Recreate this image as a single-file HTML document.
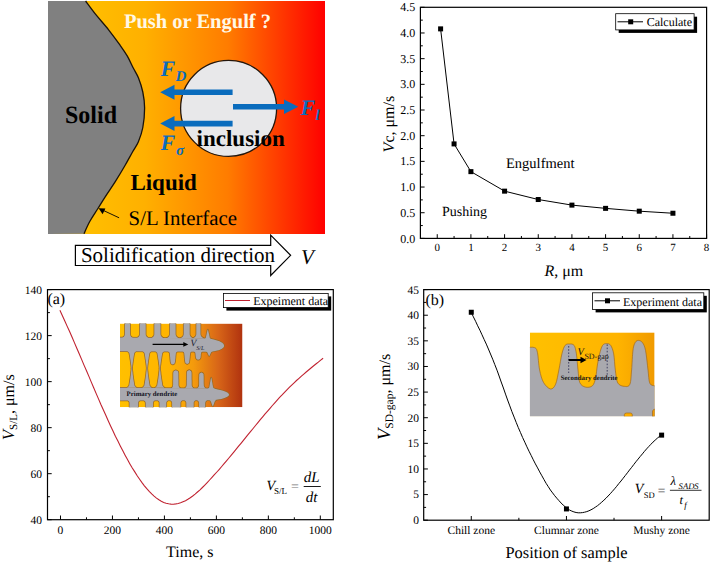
<!DOCTYPE html>
<html><head><meta charset="utf-8"><title>Figure</title>
<style>
html,body{margin:0;padding:0;background:#fff;overflow:hidden;}
svg{display:block;}
text{font-family:"Liberation Serif","Times New Roman",serif;text-rendering:geometricPrecision;}
.b{font-weight:bold;}
.i{font-style:italic;}
</style></head><body>
<svg width="712" height="564" viewBox="0 0 712 564">
<defs>
<linearGradient id="liq" x1="48" y1="0" x2="325" y2="0" gradientUnits="userSpaceOnUse">
<stop offset="0" stop-color="#ffc800"/>
<stop offset="0.35" stop-color="#ffb000"/>
<stop offset="0.65" stop-color="#ff7c00"/>
<stop offset="1" stop-color="#ff0000"/>
</linearGradient>
<linearGradient id="insA" x1="120" y1="0" x2="242.5" y2="0" gradientUnits="userSpaceOnUse">
<stop offset="0" stop-color="#ffc000"/>
<stop offset="0.4" stop-color="#ffb400"/>
<stop offset="0.6" stop-color="#f49a0c"/>
<stop offset="0.8" stop-color="#d86618"/>
<stop offset="1" stop-color="#b0320f"/>
</linearGradient>
<linearGradient id="insB" x1="530" y1="0" x2="655" y2="0" gradientUnits="userSpaceOnUse">
<stop offset="0" stop-color="#ffc000"/>
<stop offset="0.7" stop-color="#ffb400"/>
<stop offset="1" stop-color="#f09a00"/>
</linearGradient>
<clipPath id="clipA"><rect x="120" y="323.6" width="122.5" height="83.6"/></clipPath>
<clipPath id="clipB"><rect x="529.9" y="332.4" width="124.7" height="83.8"/></clipPath>
</defs>

<rect x="48" y="1" width="277" height="233" fill="url(#liq)"/>
<path d="M48,1 L85.6,1 C87.35,3.32 92.27,10.10 96.10,14.90 C99.93,19.70 104.67,24.83 108.60,29.80 C112.53,34.77 116.60,40.35 119.70,44.70 C122.80,49.05 124.92,51.97 127.20,55.90 C129.48,59.83 131.53,64.65 133.40,68.30 C135.27,71.95 136.83,73.85 138.40,77.80 C139.97,81.75 141.77,86.98 142.80,92.00 C143.83,97.02 144.60,101.98 144.60,107.90 C144.60,113.82 143.83,121.87 142.80,127.50 C141.77,133.13 140.12,137.62 138.40,141.70 C136.68,145.78 134.78,147.95 132.50,152.00 C130.22,156.05 127.60,161.02 124.70,166.00 C121.80,170.98 118.30,176.85 115.10,181.90 C111.90,186.95 108.42,191.78 105.50,196.30 C102.58,200.82 100.25,204.75 97.60,209.00 C94.95,213.25 91.87,217.67 89.60,221.80 C87.33,225.93 84.93,231.80 84.00,233.80 L48,234 Z" fill="#808080"/>
<path d="M85.60,1.00 C87.35,3.32 92.27,10.10 96.10,14.90 C99.93,19.70 104.67,24.83 108.60,29.80 C112.53,34.77 116.60,40.35 119.70,44.70 C122.80,49.05 124.92,51.97 127.20,55.90 C129.48,59.83 131.53,64.65 133.40,68.30 C135.27,71.95 136.83,73.85 138.40,77.80 C139.97,81.75 141.77,86.98 142.80,92.00 C143.83,97.02 144.60,101.98 144.60,107.90 C144.60,113.82 143.83,121.87 142.80,127.50 C141.77,133.13 140.12,137.62 138.40,141.70 C136.68,145.78 134.78,147.95 132.50,152.00 C130.22,156.05 127.60,161.02 124.70,166.00 C121.80,170.98 118.30,176.85 115.10,181.90 C111.90,186.95 108.42,191.78 105.50,196.30 C102.58,200.82 100.25,204.75 97.60,209.00 C94.95,213.25 91.87,217.67 89.60,221.80 C87.33,225.93 84.93,231.80 84.00,233.80" fill="none" stroke="#1a1208" stroke-width="1.3"/>
<circle cx="228.6" cy="108.4" r="48" fill="#e8e8ea" stroke="#24160c" stroke-width="1.3"/>
<path d="M232.6,89.5 L174.5,89.5 L174.5,84.8 L160.2,92.3 L174.5,99.8 L174.5,95.1 L232.6,95.1 Z" fill="#0a6cbd"/>
<path d="M232.6,120.8 L174.5,120.8 L174.5,116.1 L160.2,123.6 L174.5,131.1 L174.5,126.4 L232.6,126.4 Z" fill="#0a6cbd"/>
<path d="M233.0,104.1 L284.0,104.1 L284.0,99.6 L298.3,106.8 L284.0,114.0 L284.0,109.5 L233.0,109.5 Z" fill="#0a6cbd"/>
<text x="123.9" y="27.8" class="b" font-size="20.5" fill="#fff8e6">Push or Engulf ?</text>
<text x="65.0" y="123.3" class="b" font-size="24" transform="translate(0,-4.9) scale(1,1.04)">Solid</text>
<text x="130.4" y="189.7" class="b" font-size="23">Liquid</text>
<text x="196.6" y="145.5" class="b" font-size="23">inclusion</text>
<text x="128.6" y="225.2" font-size="20.8">S/L Interface</text>
<text x="160.5" y="75.5" class="b i" font-size="22" fill="#0a6cbd">F</text>
<text x="175.5" y="81" class="b i" font-size="15" fill="#0a6cbd">D</text>
<text x="160.5" y="150" class="b i" font-size="22" fill="#0a6cbd">F</text>
<text x="176" y="154.5" class="b i" font-size="15" fill="#0a6cbd">σ</text>
<text x="300.5" y="114.5" class="b i" font-size="22" fill="#0a6cbd">F</text>
<text x="315.5" y="119.5" class="b i" font-size="15" fill="#0a6cbd">l</text>
<line x1="119.1" y1="217.8" x2="102" y2="209.8" stroke="#000" stroke-width="0.9"/>
<path d="M98.6,208.2 L105.4,208.6 L102.6,214.3 Z" fill="#000"/>
<path d="M75.4,245.4 L270.7,245.4 L270.7,235.1 L290.6,255.3 L270.7,275.5 L270.7,265.5 L75.4,265.5 Z" fill="#fff" stroke="#000" stroke-width="1.2"/>
<text x="80.9" y="261.6" font-size="21">Solidification direction</text>
<text x="301" y="263.5" class="i" font-size="21">V</text>
<rect x="420.40" y="7.30" width="286.20" height="231.10" fill="none" stroke="#000" stroke-width="1.20"/>
<text x="415.2" y="242.50" font-size="12" text-anchor="end">0.0</text>
<text x="415.2" y="216.82" font-size="12" text-anchor="end">0.5</text>
<text x="415.2" y="191.14" font-size="12" text-anchor="end">1.0</text>
<text x="415.2" y="165.47" font-size="12" text-anchor="end">1.5</text>
<text x="415.2" y="139.79" font-size="12" text-anchor="end">2.0</text>
<text x="415.2" y="114.11" font-size="12" text-anchor="end">2.5</text>
<text x="415.2" y="88.43" font-size="12" text-anchor="end">3.0</text>
<text x="415.2" y="62.76" font-size="12" text-anchor="end">3.5</text>
<text x="415.2" y="37.08" font-size="12" text-anchor="end">4.0</text>
<text x="415.2" y="11.40" font-size="12" text-anchor="end">4.5</text>
<text x="437.24" y="251.4" font-size="11" text-anchor="middle">0</text>
<text x="470.91" y="251.4" font-size="11" text-anchor="middle">1</text>
<text x="504.58" y="251.4" font-size="11" text-anchor="middle">2</text>
<text x="538.25" y="251.4" font-size="11" text-anchor="middle">3</text>
<text x="571.92" y="251.4" font-size="11" text-anchor="middle">4</text>
<text x="605.59" y="251.4" font-size="11" text-anchor="middle">5</text>
<text x="639.26" y="251.4" font-size="11" text-anchor="middle">6</text>
<text x="672.93" y="251.4" font-size="11" text-anchor="middle">7</text>
<text x="706.60" y="251.4" font-size="11" text-anchor="middle">8</text>
<path d="M420.40,238.40 h4.2 M420.40,225.56 h2.4 M420.40,212.72 h4.2 M420.40,199.88 h2.4 M420.40,187.04 h4.2 M420.40,174.21 h2.4 M420.40,161.37 h4.2 M420.40,148.53 h2.4 M420.40,135.69 h4.2 M420.40,122.85 h2.4 M420.40,110.01 h4.2 M420.40,97.17 h2.4 M420.40,84.33 h4.2 M420.40,71.49 h2.4 M420.40,58.66 h4.2 M420.40,45.82 h2.4 M420.40,32.98 h4.2 M420.40,20.14 h2.4 M420.40,7.30 h4.2 M437.24,238.40 v-4.2 M454.07,238.40 v-2.4 M470.91,238.40 v-4.2 M487.74,238.40 v-2.4 M504.58,238.40 v-4.2 M521.41,238.40 v-2.4 M538.25,238.40 v-4.2 M555.08,238.40 v-2.4 M571.92,238.40 v-4.2 M588.75,238.40 v-2.4 M605.59,238.40 v-4.2 M622.42,238.40 v-2.4 M639.26,238.40 v-4.2 M656.09,238.40 v-2.4 M672.93,238.40 v-4.2 M689.76,238.40 v-2.4 M706.60,238.40 v-4.2" stroke="#000" stroke-width="1" fill="none"/>
<polyline points="440.60,28.87 454.07,143.91 470.91,171.64 504.58,191.15 538.25,199.52 571.92,205.12 605.59,208.36 639.26,211.18 672.93,213.24" fill="none" stroke="#000" stroke-width="1"/>
<rect x="438.10" y="26.37" width="5" height="5" fill="#000"/>
<rect x="451.57" y="141.41" width="5" height="5" fill="#000"/>
<rect x="468.41" y="169.14" width="5" height="5" fill="#000"/>
<rect x="502.08" y="188.65" width="5" height="5" fill="#000"/>
<rect x="535.75" y="197.02" width="5" height="5" fill="#000"/>
<rect x="569.42" y="202.62" width="5" height="5" fill="#000"/>
<rect x="603.09" y="205.86" width="5" height="5" fill="#000"/>
<rect x="636.76" y="208.68" width="5" height="5" fill="#000"/>
<rect x="670.43" y="210.74" width="5" height="5" fill="#000"/>
<rect x="618.7" y="16.7" width="78.4" height="16.2" fill="#000"/>
<rect x="615.7" y="13.7" width="78.4" height="16.2" fill="#fff" stroke="#000" stroke-width="0.8"/>
<line x1="617.5" y1="21.8" x2="643" y2="21.8" stroke="#000" stroke-width="1"/>
<rect x="628.2" y="19.3" width="5" height="5" fill="#000"/>
<text x="646.7" y="26" font-size="12">Calculate</text>
<text x="506" y="167.5" font-size="14.5">Engulfment</text>
<text x="442" y="216" font-size="14">Pushing</text>
<text transform="translate(394.2,152.4) rotate(-90)" font-size="16"><tspan class="i">V</tspan>c, μm/s</text>
<text x="544.4" y="276.2" font-size="16"><tspan class="i">R</tspan>, μm</text>
<rect x="47.50" y="289.60" width="285.80" height="230.10" fill="none" stroke="#000" stroke-width="1.20"/>
<text x="42" y="523.60" font-size="11.5" text-anchor="end">40</text>
<text x="42" y="477.58" font-size="11.5" text-anchor="end">60</text>
<text x="42" y="431.56" font-size="11.5" text-anchor="end">80</text>
<text x="42" y="385.54" font-size="11.5" text-anchor="end">100</text>
<text x="42" y="339.52" font-size="11.5" text-anchor="end">120</text>
<text x="42" y="293.50" font-size="11.5" text-anchor="end">140</text>
<text x="60.49" y="533.9" font-size="11.5" text-anchor="middle">0</text>
<text x="112.45" y="533.9" font-size="11.5" text-anchor="middle">200</text>
<text x="164.42" y="533.9" font-size="11.5" text-anchor="middle">400</text>
<text x="216.38" y="533.9" font-size="11.5" text-anchor="middle">600</text>
<text x="268.35" y="533.9" font-size="11.5" text-anchor="middle">800</text>
<text x="320.31" y="533.9" font-size="11.5" text-anchor="middle">1000</text>
<path d="M47.50,519.70 h4.2 M47.50,496.69 h2.4 M47.50,473.68 h4.2 M47.50,450.67 h2.4 M47.50,427.66 h4.2 M47.50,404.65 h2.4 M47.50,381.64 h4.2 M47.50,358.63 h2.4 M47.50,335.62 h4.2 M47.50,312.61 h2.4 M47.50,289.60 h4.2 M60.49,519.70 v-4.2 M86.47,519.70 v-2.4 M112.45,519.70 v-4.2 M138.44,519.70 v-2.4 M164.42,519.70 v-4.2 M190.40,519.70 v-2.4 M216.38,519.70 v-4.2 M242.36,519.70 v-2.4 M268.35,519.70 v-4.2 M294.33,519.70 v-2.4 M320.31,519.70 v-4.2" stroke="#000" stroke-width="1" fill="none"/>
<polyline points="59.9,310.3 62.3,315.5 64.7,320.7 67.1,326.1 69.6,331.5 72.0,337.0 74.4,342.6 76.8,348.2 79.2,353.8 81.6,359.4 84.0,365.1 86.5,370.8 88.9,376.4 91.3,382.1 93.7,387.7 96.1,393.4 98.5,398.9 100.9,404.5 103.4,409.9 105.8,415.3 108.2,420.7 110.6,425.9 113.0,431.1 115.4,436.2 117.9,441.1 120.3,445.9 122.7,450.6 125.1,455.2 127.5,459.6 129.9,463.9 132.3,468.0 134.8,471.9 137.2,475.7 139.6,479.2 142.0,482.6 144.4,485.8 146.8,488.7 149.2,491.4 151.7,493.9 154.1,496.1 156.5,498.1 158.9,499.8 161.3,501.2 163.7,502.4 166.1,503.2 168.6,503.8 171.0,504.1 173.4,504.2 175.8,503.9 178.2,503.5 180.6,502.8 183.0,501.8 185.5,500.7 187.9,499.3 190.3,497.7 192.7,496.0 195.1,494.1 197.5,492.0 200.0,489.8 202.4,487.5 204.8,485.1 207.2,482.6 209.6,480.0 212.0,477.4 214.4,474.7 216.9,472.0 219.3,469.3 221.7,466.5 224.1,463.7 226.5,460.8 228.9,458.0 231.3,455.1 233.8,452.1 236.2,449.2 238.6,446.2 241.0,443.3 243.4,440.3 245.8,437.3 248.2,434.4 250.7,431.4 253.1,428.5 255.5,425.5 257.9,422.6 260.3,419.7 262.7,416.8 265.1,413.9 267.6,411.1 270.0,408.3 272.4,405.5 274.8,402.8 277.2,400.1 279.6,397.4 282.1,394.9 284.5,392.3 286.9,389.8 289.3,387.4 291.7,385.1 294.1,382.8 296.5,380.5 299.0,378.3 301.4,376.2 303.8,374.1 306.2,372.0 308.6,370.0 311.0,368.0 313.4,366.0 315.9,364.0 318.3,362.1 320.7,360.1 323.1,358.2" fill="none" stroke="#c02230" stroke-width="1.1"/>
<rect x="226.4" y="296.4" width="104.8" height="14.2" fill="#000"/>
<rect x="223.4" y="293.4" width="104.8" height="14.2" fill="#fff" stroke="#000" stroke-width="0.8"/>
<line x1="225" y1="300.5" x2="250" y2="300.5" stroke="#c02230" stroke-width="1"/>
<text x="253.2" y="305" font-size="12">Expeiment data</text>
<text x="47.4" y="304.4" font-size="16">(a)</text>
<text x="266.5" y="489.7" class="i" font-size="14">V</text>
<text x="274" y="494" font-size="9">S/L</text>
<text x="291" y="490.5" font-size="14" fill="#777">=</text>
<text x="303.8" y="481.8" class="i" font-size="15">dL</text>
<line x1="303.7" y1="486.5" x2="320.8" y2="486.5" stroke="#000" stroke-width="0.9"/>
<text x="305.8" y="501.8" class="i" font-size="15">dt</text>
<text transform="translate(14.4,440.3) rotate(-90)" font-size="16"><tspan class="i" font-size="17">V</tspan><tspan font-size="11" dy="3">S/L</tspan><tspan dy="-3">, μm/s</tspan></text>
<text x="166.1" y="556.8" font-size="16">Time, s</text>
<g clip-path="url(#clipA)"><rect x="120.0" y="323.6" width="122.5" height="83.6" fill="url(#insA)"/>
<g fill="#a9a9af" stroke="#9a6a24" stroke-width="1.5" stroke-linejoin="round"><path d="M110,337.4 L209,338.6 C214,339.6 219,340.6 222.2,342.8 C224.6,344.6 224.8,346.6 222.2,348.4 C219,350.6 214,351.4 209,351.8 L110,351.2 Z"/><path d="M121.3,338.5 L123.0,337.4 L124.1,336.4 L124.7,335.3 L124.9,334.3 L124.9,333.2 L124.9,332.2 L124.9,331.1 L124.9,330.1 L124.9,329.0 L124.9,327.9 L124.9,326.9 L124.9,325.8 L124.9,324.8 L124.9,323.7 L124.9,322.7 L124.9,321.6 L130.1,321.6 L130.1,322.7 L130.1,323.7 L130.1,324.8 L130.1,325.8 L130.1,326.9 L130.1,327.9 L130.1,329.0 L130.1,330.1 L130.1,331.1 L130.1,332.2 L130.1,333.2 L130.1,334.3 L130.3,335.3 L130.9,336.4 L132.0,337.4 L133.7,338.5 Z"/><path d="M136.2,338.5 L137.9,337.4 L139.0,336.4 L139.7,335.3 L139.8,334.3 L139.8,333.2 L139.8,332.2 L139.8,331.1 L139.8,330.1 L139.8,329.0 L139.8,327.9 L139.8,326.9 L139.8,325.8 L139.8,324.8 L139.8,323.7 L139.8,322.7 L139.8,321.6 L145.7,321.6 L145.7,322.7 L145.7,323.7 L145.7,324.8 L145.7,325.8 L145.7,326.9 L145.7,327.9 L145.7,329.0 L145.7,330.1 L145.7,331.1 L145.7,332.2 L145.7,333.2 L145.7,334.3 L145.8,335.3 L146.5,336.4 L147.6,337.4 L149.2,338.5 Z"/><path d="M150.8,338.5 L152.4,337.4 L153.5,336.4 L154.2,335.3 L154.3,334.3 L154.3,333.2 L154.3,332.2 L154.3,331.1 L154.3,330.1 L154.3,329.0 L154.3,327.9 L154.3,326.9 L154.3,325.8 L154.3,324.8 L154.3,323.7 L154.3,322.7 L154.3,321.6 L160.5,321.6 L160.5,322.7 L160.5,323.7 L160.5,324.8 L160.5,325.8 L160.5,326.9 L160.5,327.9 L160.5,329.0 L160.5,330.1 L160.5,331.1 L160.5,332.2 L160.5,333.2 L160.5,334.3 L160.7,335.3 L161.4,336.4 L162.5,337.4 L164.1,338.5 Z"/><path d="M166.2,338.5 L167.9,337.4 L169.0,336.4 L169.6,335.3 L169.8,334.3 L169.8,333.2 L169.8,332.2 L169.8,331.1 L169.8,330.1 L169.8,329.0 L169.8,327.9 L169.8,326.9 L169.8,325.8 L169.8,324.8 L169.8,323.7 L169.8,322.7 L169.8,321.6 L175.6,321.6 L175.6,322.7 L175.6,323.7 L175.6,324.8 L175.6,325.8 L175.6,326.9 L175.6,327.9 L175.6,329.0 L175.6,330.1 L175.6,331.1 L175.6,332.2 L175.6,333.2 L175.6,334.3 L175.8,335.3 L176.4,336.4 L177.5,337.4 L179.2,338.5 Z"/><path d="M180.1,338.5 L181.8,337.4 L182.9,336.4 L183.5,335.3 L183.7,334.3 L183.7,333.2 L183.7,332.2 L183.7,331.1 L183.7,330.1 L183.7,329.0 L183.7,327.9 L183.7,326.9 L183.7,325.8 L183.7,324.8 L183.7,323.7 L183.7,322.7 L183.7,321.6 L189.7,321.6 L189.7,322.7 L189.7,323.7 L189.7,324.8 L189.7,325.8 L189.7,326.9 L189.7,327.9 L189.7,329.0 L189.7,330.1 L189.7,331.1 L189.7,332.2 L189.7,333.2 L189.7,334.3 L189.9,335.3 L190.5,336.4 L191.6,337.4 L193.3,338.5 Z"/><path d="M192.7,338.5 L194.4,337.4 L195.5,336.4 L196.1,335.3 L196.3,334.3 L196.3,333.2 L196.3,332.2 L196.3,331.1 L196.3,330.1 L196.3,329.0 L196.3,327.9 L196.3,326.9 L196.3,325.8 L196.3,324.8 L196.3,323.7 L196.3,322.7 L196.3,321.6 L200.5,321.6 L200.5,322.7 L200.5,323.7 L200.5,324.8 L200.5,325.8 L200.5,326.9 L200.5,327.9 L200.5,329.0 L200.5,330.1 L200.5,331.1 L200.5,332.2 L200.5,333.2 L200.5,334.3 L200.7,335.3 L201.3,336.4 L202.4,337.4 L204.1,338.5 Z"/><path d="M203.8,340.0 L204.6,339.4 L205.2,338.7 L205.7,338.1 L205.9,337.4 L206.0,336.8 L206.2,336.1 L206.3,335.4 L206.5,334.8 L206.6,334.2 L206.7,333.5 L206.9,332.9 L207.0,332.2 L207.2,331.6 L207.3,330.9 L207.5,330.2 L207.8,329.6 L207.8,329.6 L208.1,330.2 L208.3,330.9 L208.4,331.6 L208.6,332.2 L208.7,332.9 L208.9,333.5 L209.0,334.2 L209.2,334.8 L209.3,335.4 L209.4,336.1 L209.6,336.8 L209.7,337.4 L209.9,338.1 L210.4,338.7 L211.0,339.4 L211.8,340.0 Z"/><path d="M127.1,350.8 L128.5,351.9 L129.3,353.0 L129.5,354.1 L129.7,355.2 L129.9,356.3 L130.1,357.4 L130.2,358.5 L130.4,359.6 L130.6,360.7 L130.7,361.8 L130.9,362.9 L131.0,364.0 L131.2,365.1 L131.3,366.2 L131.4,367.3 L131.5,368.4 L132.2,368.4 L132.2,367.3 L132.3,366.2 L132.4,365.1 L132.6,364.0 L132.7,362.9 L132.9,361.8 L133.0,360.7 L133.2,359.6 L133.4,358.5 L133.5,357.4 L133.7,356.3 L133.9,355.2 L134.1,354.1 L134.3,353.0 L135.1,351.9 L136.5,350.8 Z"/><path d="M142.3,350.8 L143.7,351.9 L144.5,353.0 L144.7,354.1 L144.9,355.2 L145.1,356.3 L145.3,357.4 L145.4,358.5 L145.6,359.6 L145.8,360.7 L145.9,361.8 L146.1,362.9 L146.2,364.0 L146.4,365.1 L146.5,366.2 L146.6,367.3 L146.7,368.4 L147.3,368.4 L147.4,367.3 L147.5,366.2 L147.6,365.1 L147.8,364.0 L147.9,362.9 L148.1,361.8 L148.2,360.7 L148.4,359.6 L148.6,358.5 L148.7,357.4 L148.9,356.3 L149.1,355.2 L149.3,354.1 L149.5,353.0 L150.3,351.9 L151.7,350.8 Z"/><path d="M155.1,350.8 L156.5,351.9 L157.3,353.0 L157.5,354.1 L157.7,355.2 L157.9,356.3 L158.1,357.4 L158.2,358.5 L158.4,359.6 L158.6,360.7 L158.7,361.8 L158.9,362.9 L159.0,364.0 L159.2,365.1 L159.3,366.2 L159.4,367.3 L159.5,368.4 L160.2,368.4 L160.2,367.3 L160.3,366.2 L160.4,365.1 L160.6,364.0 L160.7,362.9 L160.9,361.8 L161.0,360.7 L161.2,359.6 L161.4,358.5 L161.5,357.4 L161.7,356.3 L161.9,355.2 L162.1,354.1 L162.3,353.0 L163.1,351.9 L164.5,350.8 Z"/><path d="M167.4,350.5 L168.5,351.4 L169.2,352.3 L169.7,353.1 L169.8,354.0 L169.9,354.9 L170.0,355.8 L170.1,356.7 L170.2,357.6 L170.2,358.4 L170.3,359.3 L170.4,360.2 L170.5,361.1 L170.6,362.0 L170.9,362.8 L171.2,363.7 L172.8,364.6 L172.8,364.6 L174.4,363.7 L174.7,362.8 L175.0,362.0 L175.1,361.1 L175.2,360.2 L175.3,359.3 L175.4,358.4 L175.5,357.6 L175.5,356.7 L175.6,355.8 L175.7,354.9 L175.8,354.0 L175.9,353.1 L176.4,352.3 L177.1,351.4 L178.2,350.5 Z"/><path d="M182.0,350.5 L183.0,351.3 L183.8,352.2 L184.2,353.0 L184.3,353.9 L184.4,354.7 L184.5,355.6 L184.6,356.4 L184.6,357.2 L184.7,358.1 L184.8,358.9 L184.9,359.8 L185.0,360.6 L185.1,361.5 L185.3,362.3 L185.6,363.2 L187.2,364.0 L187.2,364.0 L188.8,363.2 L189.1,362.3 L189.3,361.5 L189.4,360.6 L189.5,359.8 L189.6,358.9 L189.7,358.1 L189.8,357.2 L189.8,356.4 L189.9,355.6 L190.0,354.7 L190.1,353.9 L190.2,353.0 L190.6,352.2 L191.4,351.3 L192.4,350.5 Z"/><path d="M193.2,350.5 L193.9,351.1 L194.5,351.7 L195.0,352.2 L195.3,352.8 L195.4,353.4 L195.5,354.0 L195.5,354.6 L195.6,355.1 L195.6,355.7 L195.7,356.3 L195.8,356.9 L195.8,357.5 L196.0,358.1 L196.3,358.6 L196.7,359.2 L198.2,359.8 L198.2,359.8 L199.7,359.2 L200.1,358.6 L200.4,358.1 L200.6,357.5 L200.6,356.9 L200.7,356.3 L200.8,355.7 L200.8,355.1 L200.8,354.6 L200.9,354.0 L201.0,353.4 L201.1,352.8 L201.4,352.2 L201.9,351.7 L202.5,351.1 L203.2,350.5 Z"/><path d="M205.4,350.8 L205.9,351.1 L206.4,351.4 L206.7,351.8 L207.1,352.1 L207.3,352.4 L207.5,352.8 L207.6,353.1 L207.8,353.4 L207.9,353.7 L208.1,354.1 L208.2,354.4 L208.4,354.7 L208.5,355.0 L208.7,355.4 L208.8,355.7 L209.2,356.0 L209.2,356.0 L209.5,355.7 L209.7,355.4 L209.8,355.0 L210.0,354.7 L210.1,354.4 L210.3,354.1 L210.4,353.7 L210.6,353.4 L210.8,353.1 L210.9,352.8 L211.1,352.4 L211.3,352.1 L211.7,351.8 L212.0,351.4 L212.5,351.1 L213.0,350.8 Z"/><path d="M110,387.6 L214,388.4 C219,389.6 224,390.6 227.2,392.4 C229.6,394 229.6,395.4 227.2,396.8 C224,398.6 219,399.6 214,400.2 L110,400.4 Z"/><path d="M127.0,387.8 L128.5,386.6 L129.2,385.4 L129.4,384.1 L129.6,382.9 L129.8,381.7 L130.0,380.4 L130.2,379.2 L130.4,378.0 L130.5,376.8 L130.7,375.6 L130.9,374.3 L131.0,373.1 L131.1,371.9 L131.3,370.6 L131.4,369.4 L131.5,368.2 L132.2,368.2 L132.2,369.4 L132.3,370.6 L132.5,371.9 L132.6,373.1 L132.7,374.3 L132.9,375.6 L133.1,376.8 L133.2,378.0 L133.4,379.2 L133.6,380.4 L133.8,381.7 L134.0,382.9 L134.2,384.1 L134.4,385.4 L135.1,386.6 L136.6,387.8 Z"/><path d="M142.2,387.8 L143.7,386.6 L144.4,385.4 L144.6,384.1 L144.8,382.9 L145.0,381.7 L145.2,380.4 L145.4,379.2 L145.6,378.0 L145.7,376.8 L145.9,375.6 L146.1,374.3 L146.2,373.1 L146.3,371.9 L146.5,370.6 L146.6,369.4 L146.7,368.2 L147.3,368.2 L147.4,369.4 L147.5,370.6 L147.7,371.9 L147.8,373.1 L147.9,374.3 L148.1,375.6 L148.3,376.8 L148.4,378.0 L148.6,379.2 L148.8,380.4 L149.0,381.7 L149.2,382.9 L149.4,384.1 L149.6,385.4 L150.3,386.6 L151.8,387.8 Z"/><path d="M155.0,387.8 L156.5,386.6 L157.2,385.4 L157.4,384.1 L157.6,382.9 L157.8,381.7 L158.0,380.4 L158.2,379.2 L158.4,378.0 L158.5,376.8 L158.7,375.6 L158.9,374.3 L159.0,373.1 L159.1,371.9 L159.3,370.6 L159.4,369.4 L159.5,368.2 L160.2,368.2 L160.2,369.4 L160.3,370.6 L160.5,371.9 L160.6,373.1 L160.7,374.3 L160.9,375.6 L161.1,376.8 L161.2,378.0 L161.4,379.2 L161.6,380.4 L161.8,381.7 L162.0,382.9 L162.2,384.1 L162.4,385.4 L163.1,386.6 L164.6,387.8 Z"/><path d="M171.0,388.5 L172.3,387.4 L172.9,386.2 L173.1,385.1 L173.1,383.9 L173.1,382.8 L173.1,381.6 L173.1,380.5 L173.2,379.4 L173.2,378.2 L173.2,377.1 L173.2,375.9 L173.2,374.8 L173.2,373.6 L173.3,372.5 L173.7,371.3 L175.8,370.2 L175.8,370.2 L177.9,371.3 L178.3,372.5 L178.4,373.6 L178.4,374.8 L178.4,375.9 L178.4,377.1 L178.4,378.2 L178.5,379.4 L178.5,380.5 L178.5,381.6 L178.5,382.8 L178.5,383.9 L178.5,385.1 L178.7,386.2 L179.3,387.4 L180.6,388.5 Z"/><path d="M184.6,388.5 L185.9,387.3 L186.5,386.2 L186.7,385.0 L186.7,383.9 L186.7,382.7 L186.7,381.6 L186.7,380.4 L186.8,379.2 L186.8,378.1 L186.8,376.9 L186.8,375.8 L186.8,374.6 L186.8,373.5 L186.9,372.3 L187.2,371.2 L189.2,370.0 L189.2,370.0 L191.2,371.2 L191.5,372.3 L191.6,373.5 L191.6,374.6 L191.6,375.8 L191.6,376.9 L191.6,378.1 L191.6,379.2 L191.7,380.4 L191.7,381.6 L191.7,382.7 L191.7,383.9 L191.7,385.0 L191.9,386.2 L192.5,387.3 L193.8,388.5 Z"/><path d="M197.0,388.5 L198.1,387.5 L198.8,386.5 L199.0,385.5 L199.1,384.5 L199.1,383.5 L199.1,382.5 L199.1,381.5 L199.1,380.5 L199.1,379.5 L199.1,378.5 L199.1,377.5 L199.2,376.5 L199.2,375.5 L199.2,374.5 L199.6,373.5 L201.4,372.5 L201.4,372.5 L203.2,373.5 L203.6,374.5 L203.6,375.5 L203.7,376.5 L203.7,377.5 L203.7,378.5 L203.7,379.5 L203.7,380.5 L203.7,381.5 L203.7,382.5 L203.7,383.5 L203.8,384.5 L203.8,385.5 L204.0,386.5 L204.7,387.5 L205.8,388.5 Z"/><path d="M207.8,389.0 L208.6,388.3 L209.2,387.6 L209.4,386.9 L209.5,386.1 L209.6,385.4 L209.8,384.7 L209.9,384.0 L210.0,383.3 L210.1,382.6 L210.2,381.9 L210.4,381.2 L210.5,380.5 L210.6,379.7 L210.8,379.0 L210.9,378.3 L211.2,377.6 L211.2,377.6 L211.5,378.3 L211.6,379.0 L211.8,379.7 L211.9,380.5 L212.0,381.2 L212.1,381.9 L212.3,382.6 L212.4,383.3 L212.5,384.0 L212.6,384.7 L212.8,385.4 L212.9,386.1 L213.0,386.9 L213.2,387.6 L213.8,388.3 L214.6,389.0 Z"/><path d="M126.9,399.5 L127.8,400.1 L128.4,400.7 L129.0,401.3 L129.3,401.9 L129.5,402.5 L129.5,403.1 L129.5,403.7 L129.5,404.4 L129.5,405.0 L129.5,405.6 L129.5,406.2 L129.5,406.8 L129.5,407.4 L129.5,408.0 L129.5,408.6 L129.5,409.2 L138.2,409.2 L138.2,408.6 L138.2,408.0 L138.2,407.4 L138.2,406.8 L138.2,406.2 L138.2,405.6 L138.2,405.0 L138.2,404.4 L138.2,403.7 L138.2,403.1 L138.2,402.5 L138.4,401.9 L138.7,401.3 L139.3,400.7 L139.9,400.1 L140.8,399.5 Z"/><path d="M143.0,399.5 L143.9,400.1 L144.5,400.7 L145.1,401.3 L145.4,401.9 L145.6,402.5 L145.7,403.1 L145.7,403.7 L145.7,404.4 L145.7,405.0 L145.7,405.6 L145.7,406.2 L145.7,406.8 L145.7,407.4 L145.7,408.0 L145.7,408.6 L145.7,409.2 L153.0,409.2 L153.0,408.6 L153.0,408.0 L153.0,407.4 L153.0,406.8 L153.0,406.2 L153.0,405.6 L153.0,405.0 L153.0,404.4 L153.0,403.7 L153.0,403.1 L153.1,402.5 L153.3,401.9 L153.6,401.3 L154.2,400.7 L154.8,400.1 L155.7,399.5 Z"/><path d="M156.9,399.5 L157.7,400.1 L158.4,400.7 L158.9,401.3 L159.3,401.9 L159.5,402.5 L159.5,403.1 L159.5,403.7 L159.5,404.4 L159.5,405.0 L159.5,405.6 L159.5,406.2 L159.5,406.8 L159.5,407.4 L159.5,408.0 L159.5,408.6 L159.5,409.2 L166.3,409.2 L166.3,408.6 L166.3,408.0 L166.3,407.4 L166.3,406.8 L166.3,406.2 L166.3,405.6 L166.3,405.0 L166.3,404.4 L166.3,403.7 L166.3,403.1 L166.3,402.5 L166.5,401.9 L166.9,401.3 L167.4,400.7 L168.1,400.1 L168.9,399.5 Z"/><path d="M169.5,399.5 L170.3,400.1 L171.0,400.7 L171.5,401.3 L171.9,401.9 L172.1,402.5 L172.1,403.1 L172.1,403.7 L172.1,404.4 L172.1,405.0 L172.1,405.6 L172.1,406.2 L172.1,406.8 L172.1,407.4 L172.1,408.0 L172.1,408.6 L172.1,409.2 L180.5,409.2 L180.5,408.6 L180.5,408.0 L180.5,407.4 L180.5,406.8 L180.5,406.2 L180.5,405.6 L180.5,405.0 L180.5,404.4 L180.5,403.7 L180.5,403.1 L180.5,402.5 L180.7,401.9 L181.1,401.3 L181.6,400.7 L182.3,400.1 L183.1,399.5 Z"/><path d="M183.7,399.5 L184.5,400.1 L185.2,400.7 L185.7,401.3 L186.1,401.9 L186.3,402.5 L186.3,403.1 L186.3,403.7 L186.3,404.4 L186.3,405.0 L186.3,405.6 L186.3,406.2 L186.3,406.8 L186.3,407.4 L186.3,408.0 L186.3,408.6 L186.3,409.2 L193.7,409.2 L193.7,408.6 L193.7,408.0 L193.7,407.4 L193.7,406.8 L193.7,406.2 L193.7,405.6 L193.7,405.0 L193.7,404.4 L193.7,403.7 L193.7,403.1 L193.7,402.5 L193.9,401.9 L194.3,401.3 L194.8,400.7 L195.5,400.1 L196.3,399.5 Z"/><path d="M196.5,399.5 L197.3,400.1 L197.9,400.7 L198.5,401.3 L198.8,401.9 L199.0,402.5 L199.1,403.1 L199.1,403.7 L199.1,404.4 L199.1,405.0 L199.1,405.6 L199.1,406.2 L199.1,406.8 L199.1,407.4 L199.1,408.0 L199.1,408.6 L199.1,409.2 L205.2,409.2 L205.2,408.6 L205.2,408.0 L205.2,407.4 L205.2,406.8 L205.2,406.2 L205.2,405.6 L205.2,405.0 L205.2,404.4 L205.2,403.7 L205.2,403.1 L205.3,402.5 L205.5,401.9 L205.8,401.3 L206.4,400.7 L207.0,400.1 L207.8,399.5 Z"/><path d="M209.3,399.8 L209.8,400.2 L210.2,400.6 L210.6,401.0 L210.8,401.4 L211.0,401.9 L211.2,402.3 L211.3,402.7 L211.5,403.1 L211.6,403.5 L211.7,403.9 L211.9,404.3 L212.0,404.8 L212.2,405.2 L212.3,405.6 L212.5,406.0 L212.8,406.4 L212.8,406.4 L213.1,406.0 L213.3,405.6 L213.4,405.2 L213.6,404.8 L213.7,404.3 L213.9,403.9 L214.0,403.5 L214.2,403.1 L214.3,402.7 L214.4,402.3 L214.6,401.9 L214.8,401.4 L215.0,401.0 L215.4,400.6 L215.8,400.2 L216.3,399.8 Z"/></g>
<g fill="#a9a9af"><path d="M110,337.4 L209,338.6 C214,339.6 219,340.6 222.2,342.8 C224.6,344.6 224.8,346.6 222.2,348.4 C219,350.6 214,351.4 209,351.8 L110,351.2 Z"/><path d="M121.3,338.5 L123.0,337.4 L124.1,336.4 L124.7,335.3 L124.9,334.3 L124.9,333.2 L124.9,332.2 L124.9,331.1 L124.9,330.1 L124.9,329.0 L124.9,327.9 L124.9,326.9 L124.9,325.8 L124.9,324.8 L124.9,323.7 L124.9,322.7 L124.9,321.6 L130.1,321.6 L130.1,322.7 L130.1,323.7 L130.1,324.8 L130.1,325.8 L130.1,326.9 L130.1,327.9 L130.1,329.0 L130.1,330.1 L130.1,331.1 L130.1,332.2 L130.1,333.2 L130.1,334.3 L130.3,335.3 L130.9,336.4 L132.0,337.4 L133.7,338.5 Z"/><path d="M136.2,338.5 L137.9,337.4 L139.0,336.4 L139.7,335.3 L139.8,334.3 L139.8,333.2 L139.8,332.2 L139.8,331.1 L139.8,330.1 L139.8,329.0 L139.8,327.9 L139.8,326.9 L139.8,325.8 L139.8,324.8 L139.8,323.7 L139.8,322.7 L139.8,321.6 L145.7,321.6 L145.7,322.7 L145.7,323.7 L145.7,324.8 L145.7,325.8 L145.7,326.9 L145.7,327.9 L145.7,329.0 L145.7,330.1 L145.7,331.1 L145.7,332.2 L145.7,333.2 L145.7,334.3 L145.8,335.3 L146.5,336.4 L147.6,337.4 L149.2,338.5 Z"/><path d="M150.8,338.5 L152.4,337.4 L153.5,336.4 L154.2,335.3 L154.3,334.3 L154.3,333.2 L154.3,332.2 L154.3,331.1 L154.3,330.1 L154.3,329.0 L154.3,327.9 L154.3,326.9 L154.3,325.8 L154.3,324.8 L154.3,323.7 L154.3,322.7 L154.3,321.6 L160.5,321.6 L160.5,322.7 L160.5,323.7 L160.5,324.8 L160.5,325.8 L160.5,326.9 L160.5,327.9 L160.5,329.0 L160.5,330.1 L160.5,331.1 L160.5,332.2 L160.5,333.2 L160.5,334.3 L160.7,335.3 L161.4,336.4 L162.5,337.4 L164.1,338.5 Z"/><path d="M166.2,338.5 L167.9,337.4 L169.0,336.4 L169.6,335.3 L169.8,334.3 L169.8,333.2 L169.8,332.2 L169.8,331.1 L169.8,330.1 L169.8,329.0 L169.8,327.9 L169.8,326.9 L169.8,325.8 L169.8,324.8 L169.8,323.7 L169.8,322.7 L169.8,321.6 L175.6,321.6 L175.6,322.7 L175.6,323.7 L175.6,324.8 L175.6,325.8 L175.6,326.9 L175.6,327.9 L175.6,329.0 L175.6,330.1 L175.6,331.1 L175.6,332.2 L175.6,333.2 L175.6,334.3 L175.8,335.3 L176.4,336.4 L177.5,337.4 L179.2,338.5 Z"/><path d="M180.1,338.5 L181.8,337.4 L182.9,336.4 L183.5,335.3 L183.7,334.3 L183.7,333.2 L183.7,332.2 L183.7,331.1 L183.7,330.1 L183.7,329.0 L183.7,327.9 L183.7,326.9 L183.7,325.8 L183.7,324.8 L183.7,323.7 L183.7,322.7 L183.7,321.6 L189.7,321.6 L189.7,322.7 L189.7,323.7 L189.7,324.8 L189.7,325.8 L189.7,326.9 L189.7,327.9 L189.7,329.0 L189.7,330.1 L189.7,331.1 L189.7,332.2 L189.7,333.2 L189.7,334.3 L189.9,335.3 L190.5,336.4 L191.6,337.4 L193.3,338.5 Z"/><path d="M192.7,338.5 L194.4,337.4 L195.5,336.4 L196.1,335.3 L196.3,334.3 L196.3,333.2 L196.3,332.2 L196.3,331.1 L196.3,330.1 L196.3,329.0 L196.3,327.9 L196.3,326.9 L196.3,325.8 L196.3,324.8 L196.3,323.7 L196.3,322.7 L196.3,321.6 L200.5,321.6 L200.5,322.7 L200.5,323.7 L200.5,324.8 L200.5,325.8 L200.5,326.9 L200.5,327.9 L200.5,329.0 L200.5,330.1 L200.5,331.1 L200.5,332.2 L200.5,333.2 L200.5,334.3 L200.7,335.3 L201.3,336.4 L202.4,337.4 L204.1,338.5 Z"/><path d="M203.8,340.0 L204.6,339.4 L205.2,338.7 L205.7,338.1 L205.9,337.4 L206.0,336.8 L206.2,336.1 L206.3,335.4 L206.5,334.8 L206.6,334.2 L206.7,333.5 L206.9,332.9 L207.0,332.2 L207.2,331.6 L207.3,330.9 L207.5,330.2 L207.8,329.6 L207.8,329.6 L208.1,330.2 L208.3,330.9 L208.4,331.6 L208.6,332.2 L208.7,332.9 L208.9,333.5 L209.0,334.2 L209.2,334.8 L209.3,335.4 L209.4,336.1 L209.6,336.8 L209.7,337.4 L209.9,338.1 L210.4,338.7 L211.0,339.4 L211.8,340.0 Z"/><path d="M127.1,350.8 L128.5,351.9 L129.3,353.0 L129.5,354.1 L129.7,355.2 L129.9,356.3 L130.1,357.4 L130.2,358.5 L130.4,359.6 L130.6,360.7 L130.7,361.8 L130.9,362.9 L131.0,364.0 L131.2,365.1 L131.3,366.2 L131.4,367.3 L131.5,368.4 L132.2,368.4 L132.2,367.3 L132.3,366.2 L132.4,365.1 L132.6,364.0 L132.7,362.9 L132.9,361.8 L133.0,360.7 L133.2,359.6 L133.4,358.5 L133.5,357.4 L133.7,356.3 L133.9,355.2 L134.1,354.1 L134.3,353.0 L135.1,351.9 L136.5,350.8 Z"/><path d="M142.3,350.8 L143.7,351.9 L144.5,353.0 L144.7,354.1 L144.9,355.2 L145.1,356.3 L145.3,357.4 L145.4,358.5 L145.6,359.6 L145.8,360.7 L145.9,361.8 L146.1,362.9 L146.2,364.0 L146.4,365.1 L146.5,366.2 L146.6,367.3 L146.7,368.4 L147.3,368.4 L147.4,367.3 L147.5,366.2 L147.6,365.1 L147.8,364.0 L147.9,362.9 L148.1,361.8 L148.2,360.7 L148.4,359.6 L148.6,358.5 L148.7,357.4 L148.9,356.3 L149.1,355.2 L149.3,354.1 L149.5,353.0 L150.3,351.9 L151.7,350.8 Z"/><path d="M155.1,350.8 L156.5,351.9 L157.3,353.0 L157.5,354.1 L157.7,355.2 L157.9,356.3 L158.1,357.4 L158.2,358.5 L158.4,359.6 L158.6,360.7 L158.7,361.8 L158.9,362.9 L159.0,364.0 L159.2,365.1 L159.3,366.2 L159.4,367.3 L159.5,368.4 L160.2,368.4 L160.2,367.3 L160.3,366.2 L160.4,365.1 L160.6,364.0 L160.7,362.9 L160.9,361.8 L161.0,360.7 L161.2,359.6 L161.4,358.5 L161.5,357.4 L161.7,356.3 L161.9,355.2 L162.1,354.1 L162.3,353.0 L163.1,351.9 L164.5,350.8 Z"/><path d="M167.4,350.5 L168.5,351.4 L169.2,352.3 L169.7,353.1 L169.8,354.0 L169.9,354.9 L170.0,355.8 L170.1,356.7 L170.2,357.6 L170.2,358.4 L170.3,359.3 L170.4,360.2 L170.5,361.1 L170.6,362.0 L170.9,362.8 L171.2,363.7 L172.8,364.6 L172.8,364.6 L174.4,363.7 L174.7,362.8 L175.0,362.0 L175.1,361.1 L175.2,360.2 L175.3,359.3 L175.4,358.4 L175.5,357.6 L175.5,356.7 L175.6,355.8 L175.7,354.9 L175.8,354.0 L175.9,353.1 L176.4,352.3 L177.1,351.4 L178.2,350.5 Z"/><path d="M182.0,350.5 L183.0,351.3 L183.8,352.2 L184.2,353.0 L184.3,353.9 L184.4,354.7 L184.5,355.6 L184.6,356.4 L184.6,357.2 L184.7,358.1 L184.8,358.9 L184.9,359.8 L185.0,360.6 L185.1,361.5 L185.3,362.3 L185.6,363.2 L187.2,364.0 L187.2,364.0 L188.8,363.2 L189.1,362.3 L189.3,361.5 L189.4,360.6 L189.5,359.8 L189.6,358.9 L189.7,358.1 L189.8,357.2 L189.8,356.4 L189.9,355.6 L190.0,354.7 L190.1,353.9 L190.2,353.0 L190.6,352.2 L191.4,351.3 L192.4,350.5 Z"/><path d="M193.2,350.5 L193.9,351.1 L194.5,351.7 L195.0,352.2 L195.3,352.8 L195.4,353.4 L195.5,354.0 L195.5,354.6 L195.6,355.1 L195.6,355.7 L195.7,356.3 L195.8,356.9 L195.8,357.5 L196.0,358.1 L196.3,358.6 L196.7,359.2 L198.2,359.8 L198.2,359.8 L199.7,359.2 L200.1,358.6 L200.4,358.1 L200.6,357.5 L200.6,356.9 L200.7,356.3 L200.8,355.7 L200.8,355.1 L200.8,354.6 L200.9,354.0 L201.0,353.4 L201.1,352.8 L201.4,352.2 L201.9,351.7 L202.5,351.1 L203.2,350.5 Z"/><path d="M205.4,350.8 L205.9,351.1 L206.4,351.4 L206.7,351.8 L207.1,352.1 L207.3,352.4 L207.5,352.8 L207.6,353.1 L207.8,353.4 L207.9,353.7 L208.1,354.1 L208.2,354.4 L208.4,354.7 L208.5,355.0 L208.7,355.4 L208.8,355.7 L209.2,356.0 L209.2,356.0 L209.5,355.7 L209.7,355.4 L209.8,355.0 L210.0,354.7 L210.1,354.4 L210.3,354.1 L210.4,353.7 L210.6,353.4 L210.8,353.1 L210.9,352.8 L211.1,352.4 L211.3,352.1 L211.7,351.8 L212.0,351.4 L212.5,351.1 L213.0,350.8 Z"/><path d="M110,387.6 L214,388.4 C219,389.6 224,390.6 227.2,392.4 C229.6,394 229.6,395.4 227.2,396.8 C224,398.6 219,399.6 214,400.2 L110,400.4 Z"/><path d="M127.0,387.8 L128.5,386.6 L129.2,385.4 L129.4,384.1 L129.6,382.9 L129.8,381.7 L130.0,380.4 L130.2,379.2 L130.4,378.0 L130.5,376.8 L130.7,375.6 L130.9,374.3 L131.0,373.1 L131.1,371.9 L131.3,370.6 L131.4,369.4 L131.5,368.2 L132.2,368.2 L132.2,369.4 L132.3,370.6 L132.5,371.9 L132.6,373.1 L132.7,374.3 L132.9,375.6 L133.1,376.8 L133.2,378.0 L133.4,379.2 L133.6,380.4 L133.8,381.7 L134.0,382.9 L134.2,384.1 L134.4,385.4 L135.1,386.6 L136.6,387.8 Z"/><path d="M142.2,387.8 L143.7,386.6 L144.4,385.4 L144.6,384.1 L144.8,382.9 L145.0,381.7 L145.2,380.4 L145.4,379.2 L145.6,378.0 L145.7,376.8 L145.9,375.6 L146.1,374.3 L146.2,373.1 L146.3,371.9 L146.5,370.6 L146.6,369.4 L146.7,368.2 L147.3,368.2 L147.4,369.4 L147.5,370.6 L147.7,371.9 L147.8,373.1 L147.9,374.3 L148.1,375.6 L148.3,376.8 L148.4,378.0 L148.6,379.2 L148.8,380.4 L149.0,381.7 L149.2,382.9 L149.4,384.1 L149.6,385.4 L150.3,386.6 L151.8,387.8 Z"/><path d="M155.0,387.8 L156.5,386.6 L157.2,385.4 L157.4,384.1 L157.6,382.9 L157.8,381.7 L158.0,380.4 L158.2,379.2 L158.4,378.0 L158.5,376.8 L158.7,375.6 L158.9,374.3 L159.0,373.1 L159.1,371.9 L159.3,370.6 L159.4,369.4 L159.5,368.2 L160.2,368.2 L160.2,369.4 L160.3,370.6 L160.5,371.9 L160.6,373.1 L160.7,374.3 L160.9,375.6 L161.1,376.8 L161.2,378.0 L161.4,379.2 L161.6,380.4 L161.8,381.7 L162.0,382.9 L162.2,384.1 L162.4,385.4 L163.1,386.6 L164.6,387.8 Z"/><path d="M171.0,388.5 L172.3,387.4 L172.9,386.2 L173.1,385.1 L173.1,383.9 L173.1,382.8 L173.1,381.6 L173.1,380.5 L173.2,379.4 L173.2,378.2 L173.2,377.1 L173.2,375.9 L173.2,374.8 L173.2,373.6 L173.3,372.5 L173.7,371.3 L175.8,370.2 L175.8,370.2 L177.9,371.3 L178.3,372.5 L178.4,373.6 L178.4,374.8 L178.4,375.9 L178.4,377.1 L178.4,378.2 L178.5,379.4 L178.5,380.5 L178.5,381.6 L178.5,382.8 L178.5,383.9 L178.5,385.1 L178.7,386.2 L179.3,387.4 L180.6,388.5 Z"/><path d="M184.6,388.5 L185.9,387.3 L186.5,386.2 L186.7,385.0 L186.7,383.9 L186.7,382.7 L186.7,381.6 L186.7,380.4 L186.8,379.2 L186.8,378.1 L186.8,376.9 L186.8,375.8 L186.8,374.6 L186.8,373.5 L186.9,372.3 L187.2,371.2 L189.2,370.0 L189.2,370.0 L191.2,371.2 L191.5,372.3 L191.6,373.5 L191.6,374.6 L191.6,375.8 L191.6,376.9 L191.6,378.1 L191.6,379.2 L191.7,380.4 L191.7,381.6 L191.7,382.7 L191.7,383.9 L191.7,385.0 L191.9,386.2 L192.5,387.3 L193.8,388.5 Z"/><path d="M197.0,388.5 L198.1,387.5 L198.8,386.5 L199.0,385.5 L199.1,384.5 L199.1,383.5 L199.1,382.5 L199.1,381.5 L199.1,380.5 L199.1,379.5 L199.1,378.5 L199.1,377.5 L199.2,376.5 L199.2,375.5 L199.2,374.5 L199.6,373.5 L201.4,372.5 L201.4,372.5 L203.2,373.5 L203.6,374.5 L203.6,375.5 L203.7,376.5 L203.7,377.5 L203.7,378.5 L203.7,379.5 L203.7,380.5 L203.7,381.5 L203.7,382.5 L203.7,383.5 L203.8,384.5 L203.8,385.5 L204.0,386.5 L204.7,387.5 L205.8,388.5 Z"/><path d="M207.8,389.0 L208.6,388.3 L209.2,387.6 L209.4,386.9 L209.5,386.1 L209.6,385.4 L209.8,384.7 L209.9,384.0 L210.0,383.3 L210.1,382.6 L210.2,381.9 L210.4,381.2 L210.5,380.5 L210.6,379.7 L210.8,379.0 L210.9,378.3 L211.2,377.6 L211.2,377.6 L211.5,378.3 L211.6,379.0 L211.8,379.7 L211.9,380.5 L212.0,381.2 L212.1,381.9 L212.3,382.6 L212.4,383.3 L212.5,384.0 L212.6,384.7 L212.8,385.4 L212.9,386.1 L213.0,386.9 L213.2,387.6 L213.8,388.3 L214.6,389.0 Z"/><path d="M126.9,399.5 L127.8,400.1 L128.4,400.7 L129.0,401.3 L129.3,401.9 L129.5,402.5 L129.5,403.1 L129.5,403.7 L129.5,404.4 L129.5,405.0 L129.5,405.6 L129.5,406.2 L129.5,406.8 L129.5,407.4 L129.5,408.0 L129.5,408.6 L129.5,409.2 L138.2,409.2 L138.2,408.6 L138.2,408.0 L138.2,407.4 L138.2,406.8 L138.2,406.2 L138.2,405.6 L138.2,405.0 L138.2,404.4 L138.2,403.7 L138.2,403.1 L138.2,402.5 L138.4,401.9 L138.7,401.3 L139.3,400.7 L139.9,400.1 L140.8,399.5 Z"/><path d="M143.0,399.5 L143.9,400.1 L144.5,400.7 L145.1,401.3 L145.4,401.9 L145.6,402.5 L145.7,403.1 L145.7,403.7 L145.7,404.4 L145.7,405.0 L145.7,405.6 L145.7,406.2 L145.7,406.8 L145.7,407.4 L145.7,408.0 L145.7,408.6 L145.7,409.2 L153.0,409.2 L153.0,408.6 L153.0,408.0 L153.0,407.4 L153.0,406.8 L153.0,406.2 L153.0,405.6 L153.0,405.0 L153.0,404.4 L153.0,403.7 L153.0,403.1 L153.1,402.5 L153.3,401.9 L153.6,401.3 L154.2,400.7 L154.8,400.1 L155.7,399.5 Z"/><path d="M156.9,399.5 L157.7,400.1 L158.4,400.7 L158.9,401.3 L159.3,401.9 L159.5,402.5 L159.5,403.1 L159.5,403.7 L159.5,404.4 L159.5,405.0 L159.5,405.6 L159.5,406.2 L159.5,406.8 L159.5,407.4 L159.5,408.0 L159.5,408.6 L159.5,409.2 L166.3,409.2 L166.3,408.6 L166.3,408.0 L166.3,407.4 L166.3,406.8 L166.3,406.2 L166.3,405.6 L166.3,405.0 L166.3,404.4 L166.3,403.7 L166.3,403.1 L166.3,402.5 L166.5,401.9 L166.9,401.3 L167.4,400.7 L168.1,400.1 L168.9,399.5 Z"/><path d="M169.5,399.5 L170.3,400.1 L171.0,400.7 L171.5,401.3 L171.9,401.9 L172.1,402.5 L172.1,403.1 L172.1,403.7 L172.1,404.4 L172.1,405.0 L172.1,405.6 L172.1,406.2 L172.1,406.8 L172.1,407.4 L172.1,408.0 L172.1,408.6 L172.1,409.2 L180.5,409.2 L180.5,408.6 L180.5,408.0 L180.5,407.4 L180.5,406.8 L180.5,406.2 L180.5,405.6 L180.5,405.0 L180.5,404.4 L180.5,403.7 L180.5,403.1 L180.5,402.5 L180.7,401.9 L181.1,401.3 L181.6,400.7 L182.3,400.1 L183.1,399.5 Z"/><path d="M183.7,399.5 L184.5,400.1 L185.2,400.7 L185.7,401.3 L186.1,401.9 L186.3,402.5 L186.3,403.1 L186.3,403.7 L186.3,404.4 L186.3,405.0 L186.3,405.6 L186.3,406.2 L186.3,406.8 L186.3,407.4 L186.3,408.0 L186.3,408.6 L186.3,409.2 L193.7,409.2 L193.7,408.6 L193.7,408.0 L193.7,407.4 L193.7,406.8 L193.7,406.2 L193.7,405.6 L193.7,405.0 L193.7,404.4 L193.7,403.7 L193.7,403.1 L193.7,402.5 L193.9,401.9 L194.3,401.3 L194.8,400.7 L195.5,400.1 L196.3,399.5 Z"/><path d="M196.5,399.5 L197.3,400.1 L197.9,400.7 L198.5,401.3 L198.8,401.9 L199.0,402.5 L199.1,403.1 L199.1,403.7 L199.1,404.4 L199.1,405.0 L199.1,405.6 L199.1,406.2 L199.1,406.8 L199.1,407.4 L199.1,408.0 L199.1,408.6 L199.1,409.2 L205.2,409.2 L205.2,408.6 L205.2,408.0 L205.2,407.4 L205.2,406.8 L205.2,406.2 L205.2,405.6 L205.2,405.0 L205.2,404.4 L205.2,403.7 L205.2,403.1 L205.3,402.5 L205.5,401.9 L205.8,401.3 L206.4,400.7 L207.0,400.1 L207.8,399.5 Z"/><path d="M209.3,399.8 L209.8,400.2 L210.2,400.6 L210.6,401.0 L210.8,401.4 L211.0,401.9 L211.2,402.3 L211.3,402.7 L211.5,403.1 L211.6,403.5 L211.7,403.9 L211.9,404.3 L212.0,404.8 L212.2,405.2 L212.3,405.6 L212.5,406.0 L212.8,406.4 L212.8,406.4 L213.1,406.0 L213.3,405.6 L213.4,405.2 L213.6,404.8 L213.7,404.3 L213.9,403.9 L214.0,403.5 L214.2,403.1 L214.3,402.7 L214.4,402.3 L214.6,401.9 L214.8,401.4 L215.0,401.0 L215.4,400.6 L215.8,400.2 L216.3,399.8 Z"/></g>
<line x1="152.6" y1="344.4" x2="185" y2="344.4" stroke="#000" stroke-width="1.3"/>
<path d="M188.3,344.4 L183.3,342 L183.3,346.8 Z" fill="#000"/>
<text x="190.4" y="346.4" class="i" font-size="9.5" fill="#1d2233">V</text>
<text x="196.2" y="349.8" class="i" font-size="6.2" fill="#1d2233">S/L</text>
<text x="126.6" y="396.1" class="b" font-size="6.8" fill="#111122">Primary dendrite</text></g>
<rect x="423.70" y="289.60" width="285.50" height="230.60" fill="none" stroke="#000" stroke-width="1.20"/>
<text x="419" y="524.10" font-size="11.5" text-anchor="end">0</text>
<text x="419" y="498.48" font-size="11.5" text-anchor="end">5</text>
<text x="419" y="472.86" font-size="11.5" text-anchor="end">10</text>
<text x="419" y="447.23" font-size="11.5" text-anchor="end">15</text>
<text x="419" y="421.61" font-size="11.5" text-anchor="end">20</text>
<text x="419" y="395.99" font-size="11.5" text-anchor="end">25</text>
<text x="419" y="370.37" font-size="11.5" text-anchor="end">30</text>
<text x="419" y="344.74" font-size="11.5" text-anchor="end">35</text>
<text x="419" y="319.12" font-size="11.5" text-anchor="end">40</text>
<text x="419" y="293.50" font-size="11.5" text-anchor="end">45</text>
<text x="471.28" y="534" font-size="11.5" text-anchor="middle">Chill zone</text>
<text x="566.45" y="534" font-size="11.5" text-anchor="middle">Clumnar zone</text>
<text x="661.62" y="534" font-size="11.5" text-anchor="middle">Mushy zone</text>
<path d="M423.70,520.20 h4.2 M423.70,507.39 h2.4 M423.70,494.58 h4.2 M423.70,481.77 h2.4 M423.70,468.96 h4.2 M423.70,456.14 h2.4 M423.70,443.33 h4.2 M423.70,430.52 h2.4 M423.70,417.71 h4.2 M423.70,404.90 h2.4 M423.70,392.09 h4.2 M423.70,379.28 h2.4 M423.70,366.47 h4.2 M423.70,353.66 h2.4 M423.70,340.84 h4.2 M423.70,328.03 h2.4 M423.70,315.22 h4.2 M423.70,302.41 h2.4 M423.70,289.60 h4.2 M471.28,520.20 v-4.2 M566.45,520.20 v-4.2 M661.62,520.20 v-4.2 M518.87,520.20 v-2.4 M614.03,520.20 v-2.4" stroke="#000" stroke-width="1" fill="none"/>
<polyline points="471.3,312.5 473.4,316.9 475.6,321.3 477.7,325.8 479.9,330.2 482.0,334.8 484.1,339.4 486.3,344.1 488.4,349.0 490.5,354.0 492.7,359.2 494.8,364.6 497.0,370.2 499.1,376.0 501.2,382.0 503.4,388.0 505.5,394.1 507.6,400.0 509.8,405.9 511.9,411.6 514.1,417.1 516.2,422.4 518.3,427.6 520.5,432.6 522.6,437.5 524.8,442.2 526.9,446.8 529.0,451.2 531.2,455.5 533.3,459.8 535.4,463.9 537.6,467.9 539.7,471.9 541.9,475.8 544.0,479.6 546.1,483.3 548.3,486.7 550.4,490.0 552.6,492.9 554.7,495.7 556.8,498.2 559.0,500.7 561.1,503.0 563.2,505.1 565.4,507.0 567.5,508.7 569.7,510.1 571.8,511.1 573.9,511.9 576.1,512.5 578.2,512.8 580.3,512.8 582.5,512.6 584.6,512.2 586.8,511.6 588.9,510.8 591.0,509.8 593.2,508.6 595.3,507.2 597.5,505.7 599.6,504.0 601.7,502.2 603.9,500.2 606.0,498.2 608.1,496.0 610.3,493.7 612.4,491.3 614.6,488.8 616.7,486.3 618.8,483.6 621.0,481.0 623.1,478.3 625.3,475.5 627.4,472.8 629.5,470.0 631.7,467.3 633.8,464.5 635.9,461.8 638.1,459.1 640.2,456.5 642.4,453.9 644.5,451.3 646.6,448.9 648.8,446.5 650.9,444.3 653.0,442.1 655.2,440.1 657.3,438.2 659.5,436.4 661.6,434.8" fill="none" stroke="#000" stroke-width="1"/>
<rect x="468.78" y="309.75" width="5" height="5" fill="#000"/>
<rect x="563.95" y="506.43" width="5" height="5" fill="#000"/>
<rect x="659.12" y="432.63" width="5" height="5" fill="#000"/>
<rect x="595.6" y="295.8" width="111.2" height="16.6" fill="#000"/>
<rect x="592.6" y="292.8" width="111.2" height="16.6" fill="#fff" stroke="#000" stroke-width="0.8"/>
<line x1="594.5" y1="300.8" x2="620" y2="300.8" stroke="#000" stroke-width="1"/>
<rect x="605" y="298.3" width="5" height="5" fill="#000"/>
<text x="623" y="305.5" font-size="12">Experiment data</text>
<text x="425.4" y="305.1" font-size="16">(b)</text>
<text x="634.8" y="493.4" class="i" font-size="14">V</text>
<text x="643.8" y="497.9" font-size="8.6">SD</text>
<text x="657.8" y="494.6" font-size="13.5" fill="#555">=</text>
<text x="670.6" y="485.2" class="i" font-size="12.5">λ</text>
<text x="678.6" y="489" class="i" font-size="8.6">SADS</text>
<line x1="669.9" y1="490.3" x2="701.5" y2="490.3" stroke="#000" stroke-width="0.8"/>
<text x="679.6" y="504.2" class="i" font-size="12.5">t</text>
<text x="684.2" y="508" class="i" font-size="9">f</text>
<text transform="translate(389.6,440) rotate(-90)" font-size="16"><tspan class="i" font-size="18.5">V</tspan><tspan font-size="11.5" dy="3">SD-gap</tspan><tspan dy="-3">, μm/s</tspan></text>
<text x="505.5" y="557.9" font-size="16.4">Position of sample</text>
<g clip-path="url(#clipB)"><rect x="529.9" y="332.4" width="124.7" height="83.8" fill="url(#insB)"/>
<path d="M527.00,347.50 C528.25,347.52 532.77,346.80 534.50,347.60 C536.23,348.40 536.55,348.58 537.40,352.30 C538.25,356.02 538.57,364.85 539.60,369.90 C540.63,374.95 541.77,379.42 543.60,382.60 C545.43,385.78 548.60,388.73 550.60,389.00 C552.60,389.27 554.22,387.38 555.60,384.20 C556.98,381.02 557.85,374.95 558.90,369.90 C559.95,364.85 560.87,357.98 561.90,353.90 C562.93,349.82 563.83,347.05 565.10,345.40 C566.37,343.75 568.00,344.00 569.50,344.00 C571.00,344.00 572.95,343.75 574.10,345.40 C575.25,347.05 575.75,349.82 576.40,353.90 C577.05,357.98 577.43,365.12 578.00,369.90 C578.57,374.68 578.57,379.73 579.80,382.60 C581.03,385.47 583.30,386.57 585.40,387.10 C587.50,387.63 590.70,387.33 592.40,385.80 C594.10,384.27 594.77,381.37 595.60,377.90 C596.43,374.43 596.73,369.00 597.40,365.00 C598.07,361.00 598.73,357.17 599.60,353.90 C600.47,350.63 601.42,347.12 602.60,345.40 C603.78,343.68 605.35,343.60 606.70,343.60 C608.05,343.60 609.53,343.68 610.70,345.40 C611.87,347.12 612.93,349.80 613.70,353.90 C614.47,358.00 614.62,365.15 615.30,370.00 C615.98,374.85 616.25,380.27 617.80,383.00 C619.35,385.73 622.58,386.20 624.60,386.40 C626.62,386.60 628.73,386.95 629.90,384.20 C631.07,381.45 631.08,375.60 631.60,369.90 C632.12,364.20 632.38,354.58 633.00,350.00 C633.62,345.42 634.37,344.00 635.30,342.40 C636.23,340.80 637.38,340.33 638.60,340.40 C639.82,340.47 641.43,341.08 642.60,342.80 C643.77,344.52 644.70,346.18 645.60,350.70 C646.50,355.22 647.30,364.48 648.00,369.90 C648.70,375.32 648.70,380.55 649.80,383.20 C650.90,385.85 653.23,385.33 654.60,385.80 C655.97,386.27 657.43,385.97 658.00,386.00 L658,420 L527,420 Z" fill="#a9a9ae"/>
<path d="M527.00,347.50 C528.25,347.52 532.77,346.80 534.50,347.60 C536.23,348.40 536.55,348.58 537.40,352.30 C538.25,356.02 538.57,364.85 539.60,369.90 C540.63,374.95 541.77,379.42 543.60,382.60 C545.43,385.78 548.60,388.73 550.60,389.00 C552.60,389.27 554.22,387.38 555.60,384.20 C556.98,381.02 557.85,374.95 558.90,369.90 C559.95,364.85 560.87,357.98 561.90,353.90 C562.93,349.82 563.83,347.05 565.10,345.40 C566.37,343.75 568.00,344.00 569.50,344.00 C571.00,344.00 572.95,343.75 574.10,345.40 C575.25,347.05 575.75,349.82 576.40,353.90 C577.05,357.98 577.43,365.12 578.00,369.90 C578.57,374.68 578.57,379.73 579.80,382.60 C581.03,385.47 583.30,386.57 585.40,387.10 C587.50,387.63 590.70,387.33 592.40,385.80 C594.10,384.27 594.77,381.37 595.60,377.90 C596.43,374.43 596.73,369.00 597.40,365.00 C598.07,361.00 598.73,357.17 599.60,353.90 C600.47,350.63 601.42,347.12 602.60,345.40 C603.78,343.68 605.35,343.60 606.70,343.60 C608.05,343.60 609.53,343.68 610.70,345.40 C611.87,347.12 612.93,349.80 613.70,353.90 C614.47,358.00 614.62,365.15 615.30,370.00 C615.98,374.85 616.25,380.27 617.80,383.00 C619.35,385.73 622.58,386.20 624.60,386.40 C626.62,386.60 628.73,386.95 629.90,384.20 C631.07,381.45 631.08,375.60 631.60,369.90 C632.12,364.20 632.38,354.58 633.00,350.00 C633.62,345.42 634.37,344.00 635.30,342.40 C636.23,340.80 637.38,340.33 638.60,340.40 C639.82,340.47 641.43,341.08 642.60,342.80 C643.77,344.52 644.70,346.18 645.60,350.70 C646.50,355.22 647.30,364.48 648.00,369.90 C648.70,375.32 648.70,380.55 649.80,383.20 C650.90,385.85 653.23,385.33 654.60,385.80 C655.97,386.27 657.43,385.97 658.00,386.00" fill="none" stroke="#a26a1e" stroke-width="0.7"/>
<path d="M624.3,417 L624.3,414.8 Q624.5,413 626.5,413 L630.2,413 Q632.2,413 632.3,414.8 L632.3,417 Z" fill="url(#insB)" stroke="#a26a1e" stroke-width="0.7"/>
<path d="M652.5,417 L652.5,411 Q653.5,409 655,409 L655,417 Z" fill="url(#insB)" stroke="#a26a1e" stroke-width="0.7"/>
<path d="M568.7,346 V373 M607.2,344.4 V374.7" stroke="#2a2a50" stroke-width="0.8" stroke-dasharray="1.6,1.6" fill="none"/>
<line x1="568.7" y1="360" x2="582" y2="360" stroke="#000" stroke-width="1.9"/>
<path d="M586.5,360 L580.5,356.8 L580.5,363.2 Z" fill="#000"/>
<text x="577.6" y="355.4" class="i" font-size="10.5" fill="#1a1410">V</text>
<text x="584.4" y="359.2" font-size="8" fill="#1a1410">SD-gap</text>
<text x="560.8" y="380.0" class="b" font-size="6.8" fill="#111111">Secondary dendrite</text></g>
</svg></body></html>
